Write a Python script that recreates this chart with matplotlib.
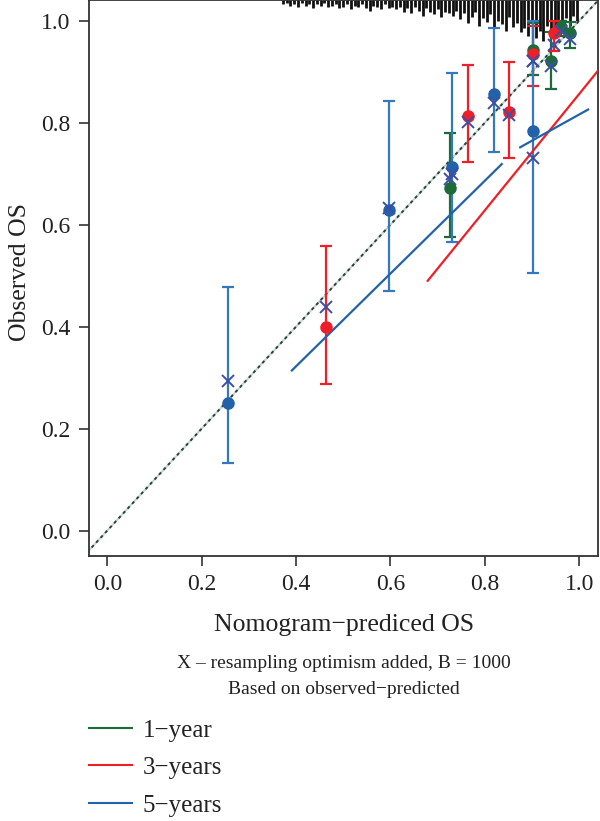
import matplotlib
matplotlib.use("Agg")
import matplotlib.pyplot as plt
import matplotlib.transforms as mtransforms
from matplotlib.lines import Line2D

plt.rcParams["font.family"] = ["Liberation Serif", "DejaVu Serif"]

# calibration groups: predicted x, observed (dot), bias-corrected (X), CI low/high
green_x = [0.726, 0.902, 0.940, 0.962, 0.980]
green_obs = [0.672, 0.942, 0.922, 0.988, 0.977]
green_corr = [0.690, 0.922, 0.912, 0.980, 0.965]
green_lo = [0.576, 0.894, 0.866, 0.970, 0.947]
green_hi = [0.780, 0.995, 0.979, 1.000, 0.998]

red_x = [0.464, 0.765, 0.851, 0.902, 0.947]
red_obs = [0.400, 0.814, 0.821, 0.935, 0.977]
red_corr = [0.439, 0.802, 0.815, 0.922, 0.952]
red_lo = [0.287, 0.723, 0.730, 0.872, 0.940]
red_hi = [0.559, 0.914, 0.920, 0.990, 1.000]

blue_x = [0.255, 0.597, 0.730, 0.820, 0.902]
blue_obs = [0.251, 0.629, 0.713, 0.857, 0.783]
blue_corr = [0.293, 0.632, 0.700, 0.839, 0.730]
blue_lo = [0.133, 0.470, 0.566, 0.743, 0.505]
blue_hi = [0.478, 0.843, 0.898, 0.986, 1.000]

# smoothed calibration curves (segments)
red_line_x = [0.679, 1.06]
red_line_y = [0.490, 0.925]
blue_line1_x = [0.391, 0.836]
blue_line1_y = [0.314, 0.719]
blue_line2_x = [0.875, 1.019]
blue_line2_y = [0.752, 0.826]

# distribution of predicted values (spike heights at top)
rug_x = [0.372, 0.380, 0.388, 0.396, 0.404, 0.412, 0.420, 0.428, 0.436, 0.444,
         0.452, 0.460, 0.468, 0.476, 0.484, 0.492, 0.500, 0.508, 0.516, 0.524,
         0.532, 0.540, 0.548, 0.556, 0.564, 0.572, 0.580, 0.588, 0.596, 0.604,
         0.612, 0.620, 0.628, 0.636, 0.644, 0.652, 0.660, 0.668, 0.676, 0.684,
         0.692, 0.700, 0.708, 0.716, 0.724, 0.732, 0.740, 0.748, 0.756, 0.764,
         0.772, 0.780, 0.788, 0.796, 0.804, 0.812, 0.820, 0.828, 0.836, 0.844,
         0.852, 0.860, 0.868, 0.876, 0.884, 0.892, 0.900, 0.908, 0.916, 0.924,
         0.932, 0.940, 0.948, 0.956, 0.964, 0.972, 0.980, 0.988, 0.996]
rug_count = [3, 2, 4, 3, 5, 2, 4, 3, 6, 3, 4, 2, 5,
             4, 3, 6, 5, 3, 7, 4, 5, 3, 6, 8, 4, 5, 7, 3, 6, 5,
             7, 5, 9, 6, 10, 5, 8, 12, 6, 9, 11, 7, 13, 9, 10,
             12, 8, 15, 10, 18, 13, 9, 20, 14, 17, 11, 22, 16, 19, 24, 13, 21, 18, 25,
             22, 28, 17, 30, 24, 32, 20, 27,
             25, 18, 22, 14, 20, 12, 16]

legend_labels = ["1\u2212year", "3\u2212years", "5\u2212years"]

GREEN = "#1d6b38"
RED = "#ee1f26"
BLUE = "#2262ab"
BLUE_BAR = "#3479c0"
XCOL = "#3b4fa6"

fig = plt.figure(figsize=(6, 8.21), dpi=100)
ax = fig.add_axes([0.1475, 0.3228, 0.8492, 0.6766])
ax.set_xlim(-0.04, 1.04)
ax.set_ylim(-0.05, 1.04)

# ideal line
ax.plot([-0.1, 1.1], [-0.1, 1.1], color="#cfcfcf", lw=1.4, zorder=1)
ax.plot([-0.1, 1.1], [-0.1, 1.1], color="#1e4a3c", lw=1.4,
        dashes=(1.6, 1.8), zorder=1.1)

# spikes from the top
trans = mtransforms.blended_transform_factory(ax.transData, ax.transAxes)
ax.vlines(rug_x, [1 - c / 440 for c in rug_count], 1, transform=trans,
          color="#111111", lw=2.0, zorder=2)

groups = [
    (green_x, green_obs, green_corr, green_lo, green_hi, GREEN, GREEN),
    (red_x, red_obs, red_corr, red_lo, red_hi, RED, RED),
    (blue_x, blue_obs, blue_corr, blue_lo, blue_hi, BLUE, BLUE_BAR),
]
for gx, obs, corr, lo, hi, col, barcol in groups:
    yerr = [[o - l for o, l in zip(obs, lo)], [h - o for o, h in zip(obs, hi)]]
    ax.errorbar(gx, obs, yerr=yerr, fmt="none", ecolor=barcol, elinewidth=1.6,
                capsize=4.5, capthick=1.6, zorder=3)
    ax.plot(gx, obs, "o", color=col, markersize=8, zorder=4)
    ax.plot(gx, corr, "x", color=XCOL, markersize=8.5, mew=1.4, zorder=5)

ax.plot(red_line_x, red_line_y, color=RED, lw=1.6, zorder=3)
ax.plot(blue_line1_x, blue_line1_y, color=BLUE, lw=1.6, zorder=3)
ax.plot(blue_line2_x, blue_line2_y, color=BLUE, lw=1.6, zorder=3)

ax.set_xticks([0.0, 0.2, 0.4, 0.6, 0.8, 1.0])
ax.set_yticks([0.0, 0.2, 0.4, 0.6, 0.8, 1.0])
ax.set_xticklabels(["0.0", "0.2", "0.4", "0.6", "0.8", "1.0"])
ax.set_yticklabels(["0.0", "0.2", "0.4", "0.6", "0.8", "1.0"])
ax.tick_params(direction="out", length=7, width=1.2, colors="#333333",
               labelsize=17, labelcolor="#222222", pad=6)
for s in ax.spines.values():
    s.set_linewidth(1.3)
    s.set_color("#333333")

fig.text(0.573, 0.2387, "Nomogram\u2212prediced OS", ha="center", va="center",
         fontsize=18.5, color="#222222")
fig.text(0.033, 0.669, "Observed OS", ha="center", va="center", rotation=90,
         fontsize=18.5, color="#222222")
fig.text(0.573, 0.1924, "X \u2013 resampling optimism added, B = 1000",
         ha="center", va="center", fontsize=14, color="#222222")
fig.text(0.573, 0.1596, "Based on observed\u2212predicted",
         ha="center", va="center", fontsize=14, color="#222222")

handles = [Line2D([], [], color=c, lw=1.5) for c in (GREEN, RED, BLUE)]
fig.legend(handles, legend_labels, loc="upper left",
           bbox_to_anchor=(0.148, 1 - 719 / 821), frameon=False, fontsize=18,
           handlelength=1.72, handletextpad=0.44, labelspacing=0.6,
           borderpad=0, borderaxespad=0, labelcolor="#222222")

fig.savefig("out.png", dpi=100)
